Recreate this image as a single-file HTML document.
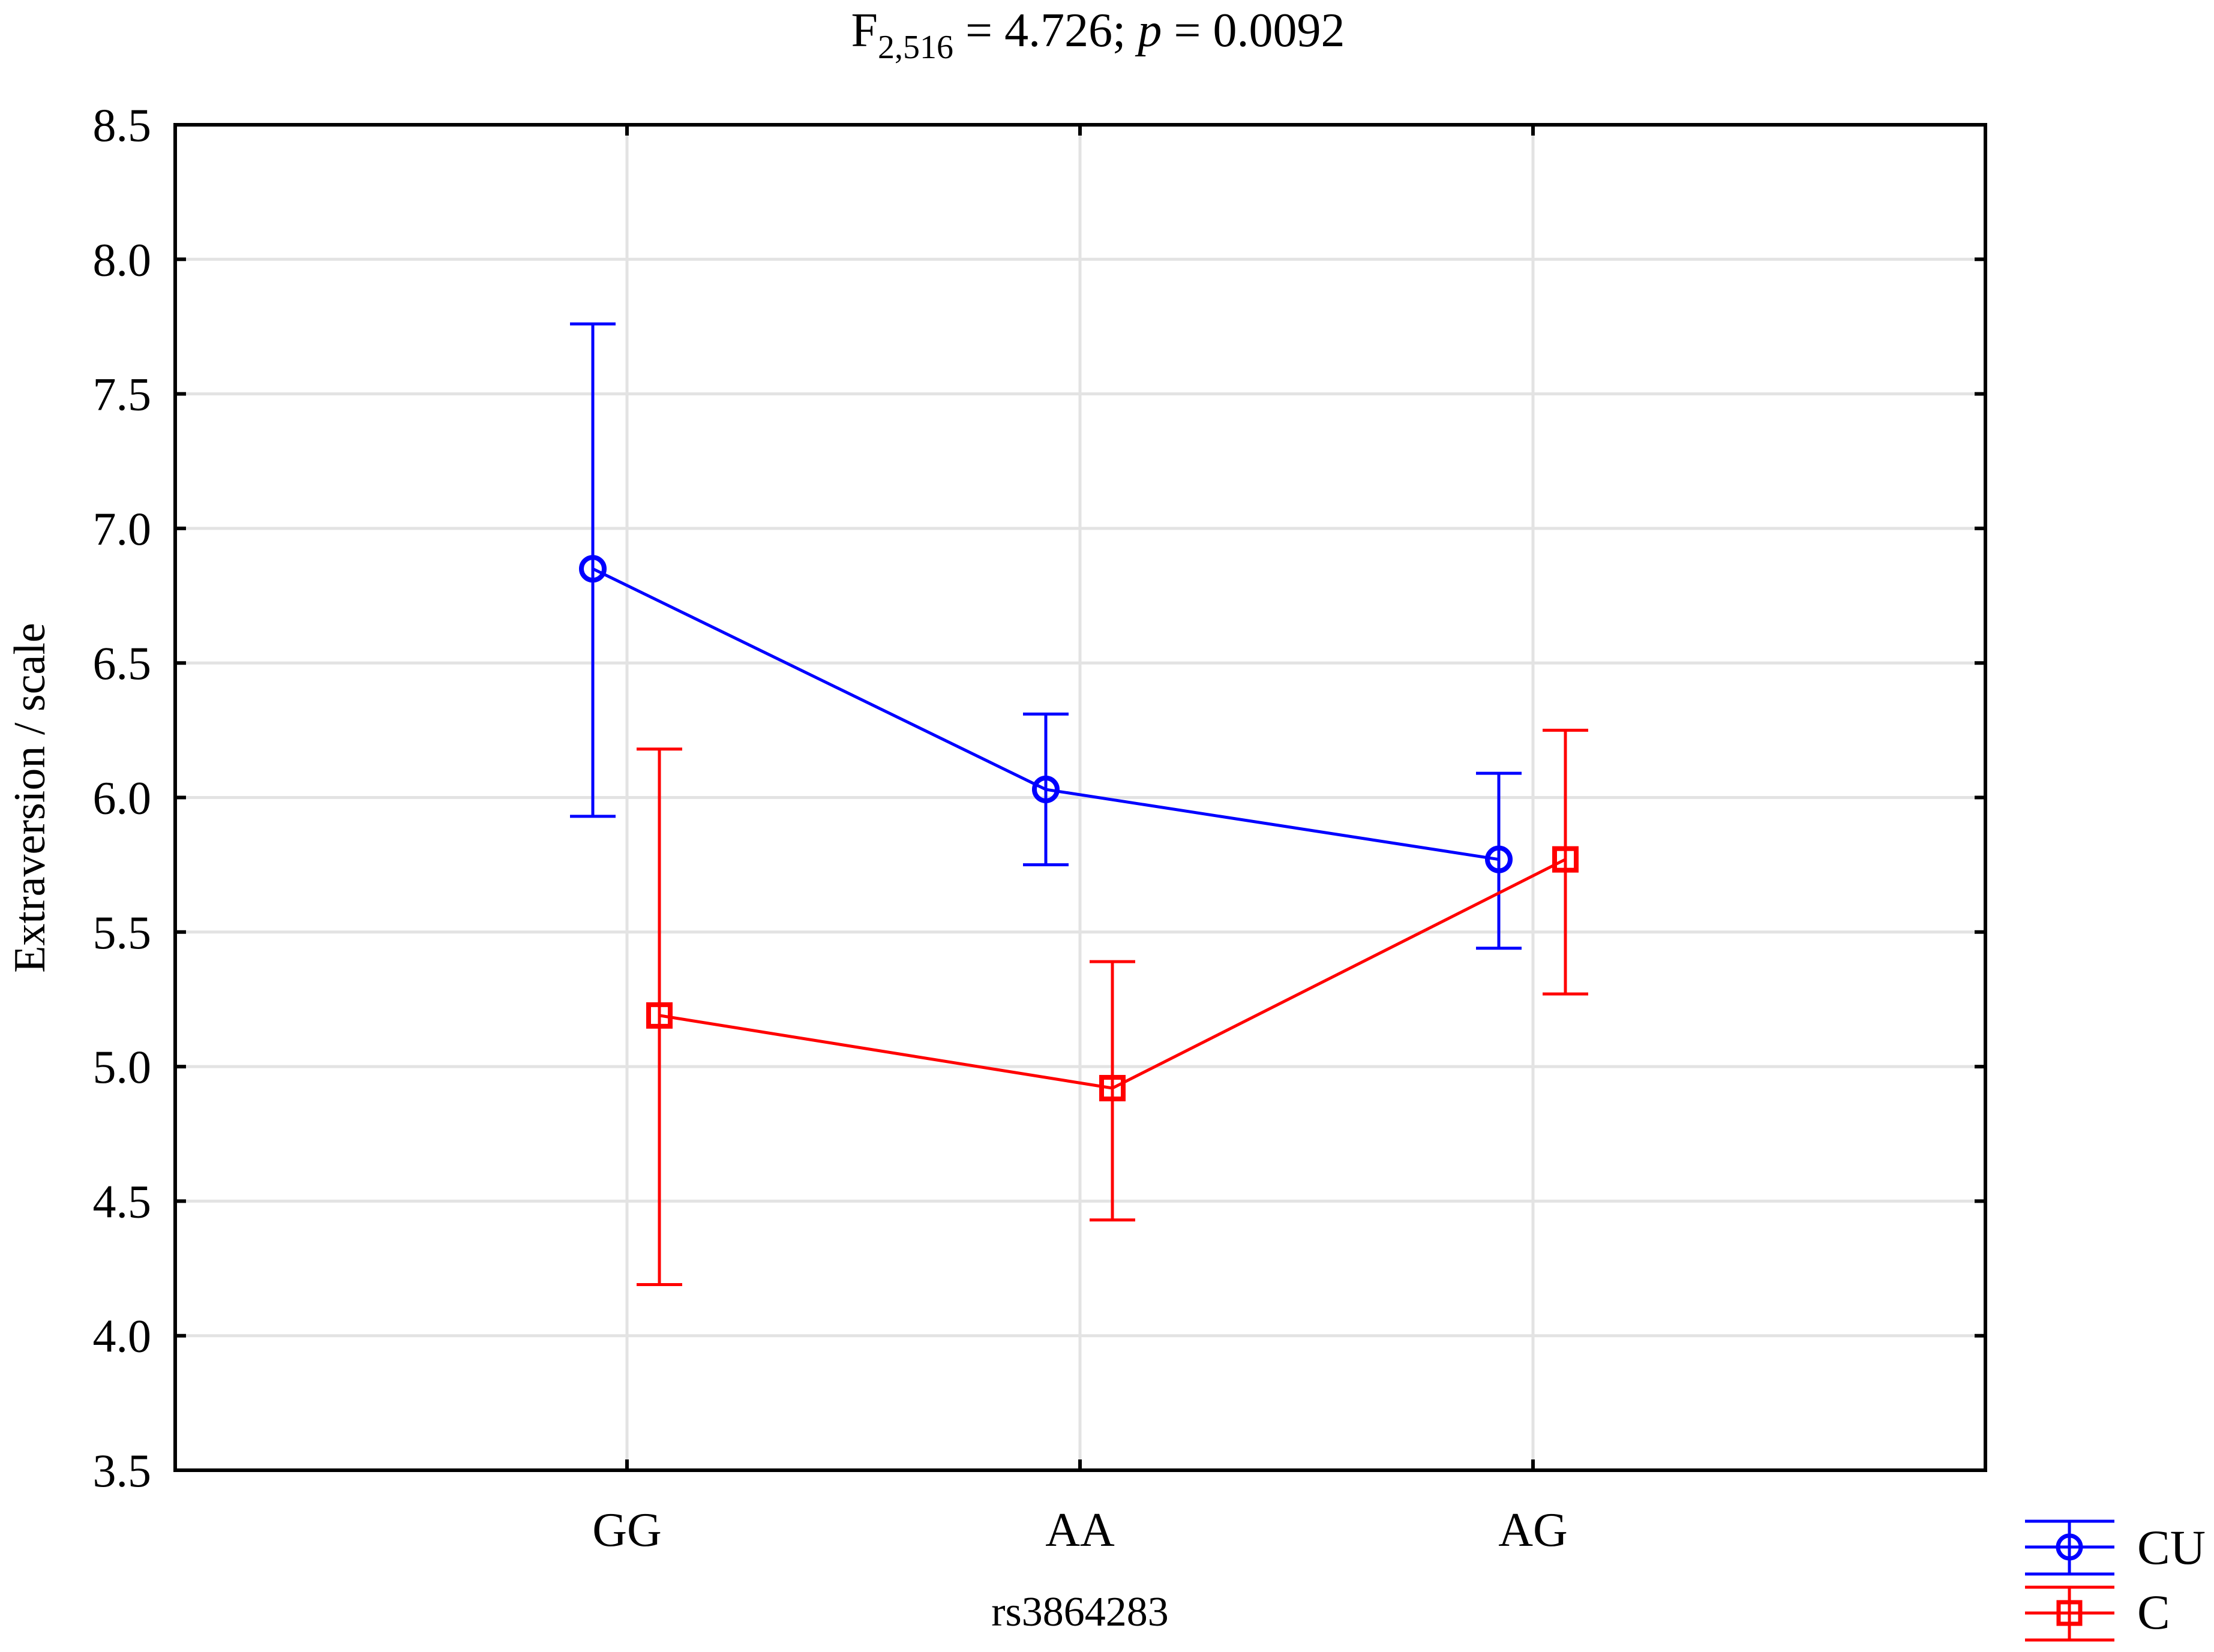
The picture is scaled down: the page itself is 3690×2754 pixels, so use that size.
<!DOCTYPE html>
<html><head><meta charset="utf-8"><style>
html,body{margin:0;padding:0;background:#fff;}
svg{display:block;font-family:"Liberation Serif",serif;}
</style></head><body>
<svg id="chart" width="3690" height="2754" viewBox="0 0 3690 2754">
<text x="1830" y="77" text-anchor="middle" font-size="80">F<tspan font-size="56" dy="20">2,516</tspan><tspan dy="-20"> = 4.726; </tspan><tspan font-style="italic">p</tspan> = 0.0092</text>
<g id="grid"></g>
<g id="yticks"></g>
<g id="xticks"></g>
<g id="series"></g>
<rect x="292" y="208" width="3017" height="2243" fill="none" stroke="#000" stroke-width="6"/>
<text x="1800" y="2710" text-anchor="middle" font-size="70">rs3864283</text>
<text transform="translate(74,1330) rotate(-90)" text-anchor="middle" font-size="74">Extraversion / scale</text>
<g>
 <g stroke="#0000ff" stroke-width="5" fill="none">
  <line x1="3375" y1="2536" x2="3524" y2="2536"/><line x1="3375" y1="2579" x2="3524" y2="2579"/><line x1="3375" y1="2624" x2="3524" y2="2624"/>
  <line x1="3449" y1="2536" x2="3449" y2="2624"/><circle cx="3449" cy="2579" r="19" stroke-width="7"/>
 </g>
 <text x="3562" y="2607" font-size="82">CU</text>
 <g stroke="#ff0000" stroke-width="5" fill="none">
  <line x1="3375" y1="2646" x2="3524" y2="2646"/><line x1="3375" y1="2689" x2="3524" y2="2689"/><line x1="3375" y1="2734" x2="3524" y2="2734"/>
  <line x1="3449" y1="2646" x2="3449" y2="2734"/><rect x="3431" y="2671" width="36" height="36" stroke-width="7"/>
 </g>
 <text x="3562" y="2715" font-size="82">C</text>
</g>
</svg>
<script>
const categories = ["GG","AA","AG"];
const yTicks = [3.5,4.0,4.5,5.0,5.5,6.0,6.5,7.0,7.5,8.0,8.5];
const cuMean = [6.85,6.03,5.77];
const cuLow = [5.93,5.75,5.44];
const cuHigh = [7.76,6.31,6.09];
const cMean = [5.19,4.92,5.77];
const cLow = [4.19,4.43,5.27];
const cHigh = [6.18,5.39,6.25];

const NS="http://www.w3.org/2000/svg";
const L=292,R=3309,T=208,B=2451,yMin=3.5,yMax=8.5;
function yS(v){return B-(v-yMin)/(yMax-yMin)*(B-T);}
function xS(i){return 1045+i*755;}
function mk(tag,attrs,parent){const e=document.createElementNS(NS,tag);for(const k in attrs)e.setAttribute(k,attrs[k]);parent.appendChild(e);return e;}
const grid=document.getElementById('grid'),yt=document.getElementById('yticks'),xt=document.getElementById('xticks'),ser=document.getElementById('series');
yTicks.forEach(v=>{
  const y=yS(v);
  if(v>yMin&&v<yMax){
    const g=mk('line',{x1:L,x2:R,y1:y,y2:y,stroke:'#e3e3e3','stroke-width':5},grid);
    
    
    const tk=mk('line',{x1:L,x2:L+18,y1:y,y2:y,stroke:'#000','stroke-width':6},yt);
    
    
    const tk2=mk('line',{x1:R,x2:R-18,y1:y,y2:y,stroke:'#000','stroke-width':6},yt);
    
    
  }
  const t=mk('text',{x:252,y:y+27,'text-anchor':'end','font-size':78},yt);
  t.textContent=v.toFixed(1);
  
  
});
categories.forEach((c,i)=>{
  const x=xS(i);
  const g=mk('line',{x1:x,x2:x,y1:T,y2:B,stroke:'#e3e3e3','stroke-width':5},grid);
  
  
  const tk=mk('line',{x1:x,x2:x,y1:T,y2:T+18,stroke:'#000','stroke-width':6},xt);
  
  
  const tk2=mk('line',{x1:x,x2:x,y1:B,y2:B-18,stroke:'#000','stroke-width':6},xt);
  
  
  const t=mk('text',{x:x,y:2577,'text-anchor':'middle','font-size':80},xt);
  t.textContent=c;
  
  
});
function drawSeries(mean,low,high,off,color,shape,name){
  const g=mk('g',{},ser);
  
  
  const pts=mean.map((v,i)=>(xS(i)+off)+','+yS(v)).join(' ');
  const pl=mk('polyline',{points:pts,fill:'none',stroke:color,'stroke-width':5},g);
  
  
  mean.forEach((v,i)=>{
    const x=xS(i)+off;
    const eb=mk('path',{d:`M${x-38},${yS(high[i])}H${x+38}M${x},${yS(high[i])}V${yS(low[i])}M${x-38},${yS(low[i])}H${x+38}`,stroke:color,'stroke-width':5,fill:'none'},g);
    
    
    let m;
    if(shape==='circle') m=mk('circle',{cx:x,cy:yS(v),r:19,fill:'none',stroke:color,'stroke-width':8},g);
    else m=mk('rect',{x:x-18,y:yS(v)-18,width:36,height:36,fill:'none',stroke:color,'stroke-width':8},g);
    
    
  });
}
drawSeries(cuMean,cuLow,cuHigh,-57,'#0000ff','circle','cu');
drawSeries(cMean,cLow,cHigh,54,'#ff0000','square','c');
</script>
</body></html>
